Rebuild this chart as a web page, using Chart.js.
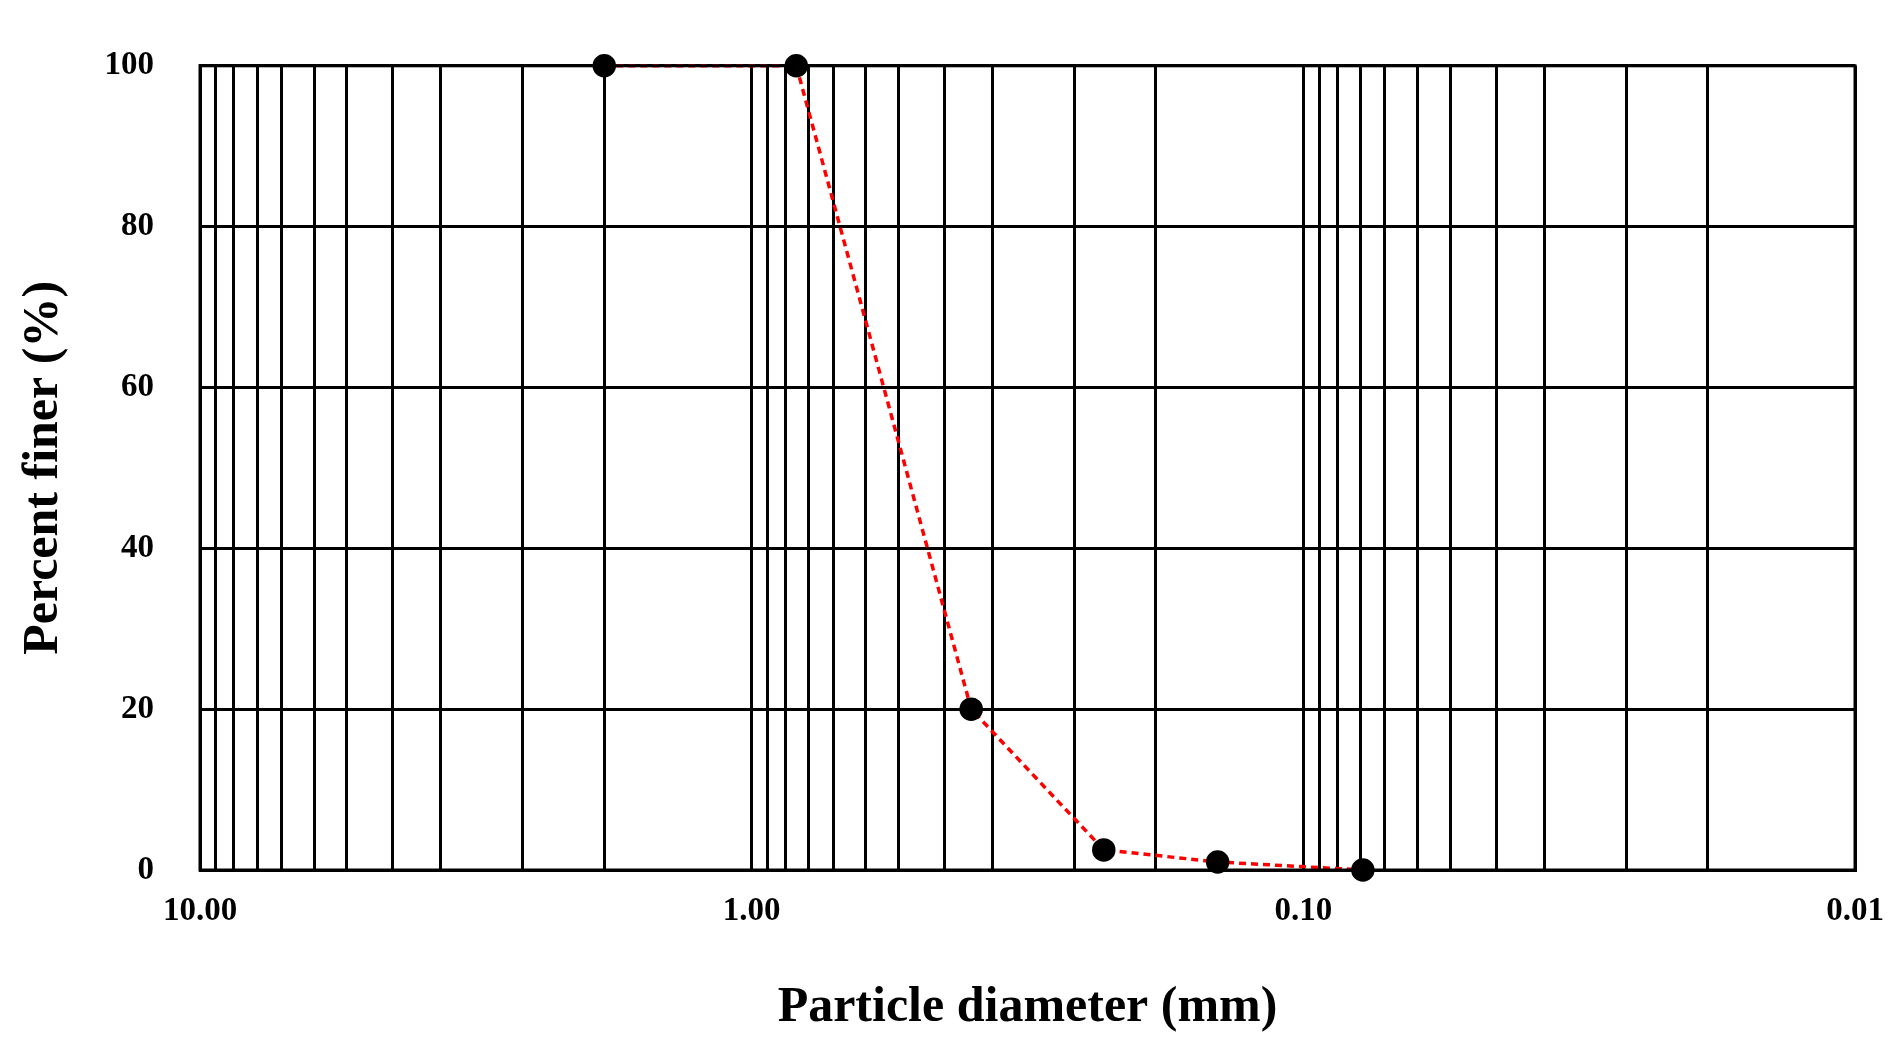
<!DOCTYPE html>
<html>
<head>
<meta charset="utf-8">
<script src="https://cdn.jsdelivr.net/npm/chart.js@4.4.0/dist/chart.umd.min.js"></script>
<style>
  html, body { margin: 0; padding: 0; background: #fff; }
  #wrap { width: 1903px; height: 1038px; }
</style>
</head>
<body>
<div id="wrap"><canvas id="chart"></canvas></div>
<script>
// Sieve data
const diameters = [1.85, 0.83, 0.40, 0.23, 0.143, 0.078]
const percentFiner = [100, 100, 20, 2.5, 1, 0]

// Vertical grid lines inside each decade (fraction of the decade's upper value)
const gridFactors = [0.936, 0.868, 0.788, 0.712, 0.621, 0.542, 0.447, 0.366, 0.26, 0.185]
const decades = [10, 1, 0.1]
const decadeLabels = [10, 1, 0.1, 0.01]

const serif = "'Liberation Serif', 'DejaVu Serif', serif"

const gridValues = [0.01]
decades.forEach(d => {
  gridValues.push(d)
  gridFactors.forEach(f => gridValues.push(d * f))
})

const isDecade = v => decadeLabels.some(d => Math.abs(v - d) / d < 1e-6)

new Chart(document.getElementById('chart'), {
  type: 'line',
  data: {
    datasets: [{
      data: diameters.map((d, i) => ({ x: d, y: percentFiner[i] })),
      borderColor: '#ff0000',
      borderWidth: 3.5,
      borderDash: [7, 5],
      pointBackgroundColor: '#000',
      pointBorderColor: '#000',
      pointRadius: 10,
      tension: 0,
      clip: false
    }]
  },
  options: {
    responsive: true,
    maintainAspectRatio: false,
    animation: false,
    layout: { padding: { left: 0, right: 48, top: 35, bottom: 0 } },
    plugins: { legend: { display: false }, tooltip: { enabled: false } },
    scales: {
      x: {
        type: 'logarithmic',
        reverse: true,
        min: 0.01,
        max: 10,
        afterBuildTicks: scale => {
          scale.ticks = gridValues.map(v => ({ value: v }))
        },
        afterFit: scale => { scale.height = 168 },
        ticks: {
          autoSkip: false,
          maxRotation: 0,
          color: '#000',
          padding: 22,
          font: { family: serif, size: 33, weight: 'bold' },
          callback: v => isDecade(v) ? v.toFixed(2) : ''
        },
        grid: { color: '#000', lineWidth: 3, drawTicks: false },
        border: { color: '#000', width: 3 },
        title: {
          display: true,
          text: 'Particle diameter (mm)',
          color: '#000',
          padding: { top: 22, bottom: 0 },
          font: { family: serif, size: 50, weight: 'bold' }
        }
      },
      y: {
        min: 0,
        max: 100,
        afterFit: scale => { scale.width = 200 },
        ticks: {
          stepSize: 20,
          color: '#000',
          padding: 46,
          font: { family: serif, size: 33, weight: 'bold' }
        },
        grid: { color: '#000', lineWidth: 3, drawTicks: false },
        border: { color: '#000', width: 3 },
        title: {
          display: true,
          text: 'Percent finer (%)',
          color: '#000',
          padding: { top: 14, bottom: 30 },
          font: { family: serif, size: 50, weight: 'bold' }
        }
      }
    }
  },
  plugins: [{
    id: 'frame',
    afterDraw(chart) {
      const { ctx, chartArea: a } = chart
      ctx.save()
      ctx.strokeStyle = '#000'
      ctx.lineWidth = 3
      ctx.strokeRect(a.left, a.top, a.right - a.left, a.bottom - a.top)
      ctx.restore()
    }
  }]
})
</script>
</body>
</html>
